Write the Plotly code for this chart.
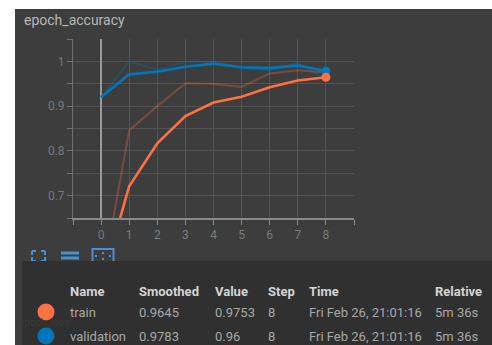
import plotly.graph_objects as go

# ---- data -------------------------------------------------------------
steps = [0, 1, 2, 3, 4, 5, 6, 7, 8]

train_raw = [0.50, 0.846, 0.900, 0.951, 0.950, 0.943, 0.973, 0.980, 0.9753]
train_smoothed = [0.50, 0.721, 0.817, 0.878, 0.908, 0.921, 0.942, 0.9573, 0.9645]

val_raw = [0.92, 1.000, 0.981, 0.999, 1.000, 0.985, 0.980, 0.997, 0.96]
val_smoothed = [0.92, 0.971, 0.977, 0.988, 0.995, 0.987, 0.985, 0.991, 0.9783]

x_ticks = [-1, 0, 1, 2, 3, 4, 5, 6, 7, 8, 9]
x_ticktext = ["", "0", "1", "2", "3", "4", "5", "6", "7", "8", ""]
y_ticks = [0.65, 0.70, 0.75, 0.80, 0.85, 0.90, 0.95, 1.00, 1.05]
y_ticktext = ["", "0.7", "", "0.8", "", "0.9", "", "1", ""]

table_headers = ["Name", "Smoothed", "Value", "Step", "Time", "Relative"]
table_rows = [
    ["train", "0.9645", "0.9753", "8", "Fri Feb 26, 21:01:16", "5m 36s"],
    ["validation", "0.9783", "0.96", "8", "Fri Feb 26, 21:01:16", "5m 36s"],
]

# ---- styling ----------------------------------------------------------
ORANGE = "#ff7043"
BLUE = "#0077bb"
PANEL = "#3c3d3c"
TABLE_BG = "#2f302f"
GRID = "#525352"
ICON = "#4a8fd1"
FONT = "Roboto"

W, H = 492, 345
L, R, T, B = 73, 354, 39, 218  # plot-area edges in pixels


def px(x):
    return (x - L) / (R - L)


def py(y):
    return (B - y) / (B - T)


fig = go.Figure()

fig.add_trace(go.Scatter(x=steps, y=val_raw, mode="lines",
                         line=dict(color="rgba(0,119,187,0.3)", width=2),
                         hoverinfo="skip", showlegend=False))
fig.add_trace(go.Scatter(x=steps, y=train_raw, mode="lines",
                         line=dict(color="rgba(255,112,67,0.3)", width=2),
                         hoverinfo="skip", showlegend=False))
fig.add_trace(go.Scatter(x=steps, y=val_smoothed, mode="lines",
                         line=dict(color=BLUE, width=2.6),
                         showlegend=False))
fig.add_trace(go.Scatter(x=steps, y=train_smoothed, mode="lines",
                         line=dict(color=ORANGE, width=2.6),
                         showlegend=False))
# highlighted last step
fig.add_trace(go.Scatter(x=[steps[-1]], y=[val_smoothed[-1]], mode="markers",
                         marker=dict(color=BLUE, size=9), showlegend=False))
fig.add_trace(go.Scatter(x=[steps[-1]], y=[train_smoothed[-1]], mode="markers",
                         marker=dict(color=ORANGE, size=9), showlegend=False))

shapes = []
# white page margins around the card
shapes.append(dict(type="rect", xref="paper", yref="paper",
                   x0=px(0), x1=px(15), y0=py(H), y1=py(0),
                   fillcolor="white", line=dict(width=0), layer="above"))
shapes.append(dict(type="rect", xref="paper", yref="paper",
                   x0=px(0), x1=px(W), y0=py(9), y1=py(0),
                   fillcolor="white", line=dict(width=0), layer="above"))

# toolbar icons
ic = dict(color=ICON, width=2)
# fit-domain icon: dashed corners
for (x0, y0, x1, y1) in [(32, 251, 36, 251), (32, 251, 32, 255),
                         (41, 251, 45, 251), (45, 251, 45, 255),
                         (32, 261, 36, 261), (32, 257, 32, 261),
                         (41, 261, 45, 261), (45, 257, 45, 261)]:
    shapes.append(dict(type="line", xref="paper", yref="paper",
                       x0=px(x0), x1=px(x1), y0=py(y0), y1=py(y1), line=ic))
# log-scale / bars icon
for yy in (251.5, 256.5):
    shapes.append(dict(type="rect", xref="paper", yref="paper",
                       x0=px(61), x1=px(79), y0=py(yy + 3), y1=py(yy),
                       fillcolor=ICON, line=dict(width=0)))
shapes.append(dict(type="rect", xref="paper", yref="paper",
                   x0=px(61), x1=px(79), y0=py(263), y1=py(261),
                   fillcolor=ICON, line=dict(width=0)))
# expand icon: box with arrows
shapes.append(dict(type="rect", xref="paper", yref="paper",
                   x0=px(92.5), x1=px(113.5), y0=py(263), y1=py(249),
                   line=dict(color=ICON, width=2), fillcolor="rgba(0,0,0,0)"))
for (x0, y0, x1, y1) in [(102, 253, 104, 253), (102, 259, 104, 259),
                         (96, 255, 96, 257), (110, 255, 110, 257)]:
    shapes.append(dict(type="line", xref="paper", yref="paper",
                       x0=px(x0), x1=px(x1), y0=py(y0), y1=py(y1),
                       line=dict(color=ICON, width=2)))

# tooltip table background
shapes.append(dict(type="rect", xref="paper", yref="paper",
                   x0=px(22), x1=px(W), y0=py(H), y1=py(261),
                   fillcolor=TABLE_BG, line=dict(width=0), layer="above"))

annotations = []
annotations.append(dict(text="epoch_accuracy", xref="paper", yref="paper",
                        x=px(22), y=py(20), xanchor="left", yanchor="middle",
                        showarrow=False, font=dict(family=FONT, size=14, color="#b8b8b8")))
# next card's title faintly showing through the tooltip
annotations.append(dict(text="epoch_loss", xref="paper", yref="paper",
                        x=px(17), y=py(322), xanchor="left", yanchor="middle",
                        showarrow=False, font=dict(family=FONT, size=10, color="#3a3b3a")))

col_x = [68, 137, 213, 266, 307, 433]
for cx, head in zip(col_x, table_headers):
    annotations.append(dict(text="<b>%s</b>" % head, xref="paper", yref="paper",
                            x=px(cx), y=py(291), xanchor="left", yanchor="middle",
                            showarrow=False, font=dict(family=FONT, size=13, color="#d4d4d4")))
row_y = [312, 336]
row_colors = [ORANGE, BLUE]
for ry, row, color in zip(row_y, table_rows, row_colors):
    shapes.append(dict(type="circle", xref="paper", yref="paper",
                       x0=px(37.5), x1=px(54.5), y0=py(ry + 8.5), y1=py(ry - 8.5),
                       fillcolor=color, line=dict(width=0), layer="above"))
    for cx, cell in zip(col_x, row):
        annotations.append(dict(text=cell, xref="paper", yref="paper",
                                x=px(cx), y=py(ry), xanchor="left", yanchor="middle",
                                showarrow=False, font=dict(family=FONT, size=13, color="#a8a8a8")))

fig.update_layout(
    width=W, height=H,
    margin=dict(l=L, r=W - R, t=T, b=H - B, pad=0),
    paper_bgcolor=PANEL,
    plot_bgcolor=PANEL,
    font=dict(family=FONT, size=12, color="#7b7b7b"),
    shapes=shapes,
    annotations=annotations,
    showlegend=False,
)
fig.update_xaxes(range=[-1, 9], tickmode="array", tickvals=x_ticks, ticktext=x_ticktext,
                 showgrid=True, gridcolor=GRID, gridwidth=1,
                 zeroline=True, zerolinecolor="#9a9a9a", zerolinewidth=2,
                 showline=True, linecolor="#8a8a8a", linewidth=2,
                 ticks="outside", ticklen=5, tickcolor="#8a8a8a", tickwidth=1,
                 tickfont=dict(family=FONT, size=12, color="#7b7b7b"), fixedrange=True)
fig.update_yaxes(range=[0.65, 1.05], tickmode="array", tickvals=y_ticks, ticktext=y_ticktext,
                 showgrid=True, gridcolor=GRID, gridwidth=1, zeroline=False,
                 showline=True, linecolor="#6f706f", linewidth=1,
                 ticks="outside", ticklen=5, tickcolor="#6f706f", tickwidth=1,
                 tickfont=dict(family=FONT, size=12, color="#7b7b7b"), fixedrange=True)

fig.write_html("out.html", config={"displayModeBar": False})
